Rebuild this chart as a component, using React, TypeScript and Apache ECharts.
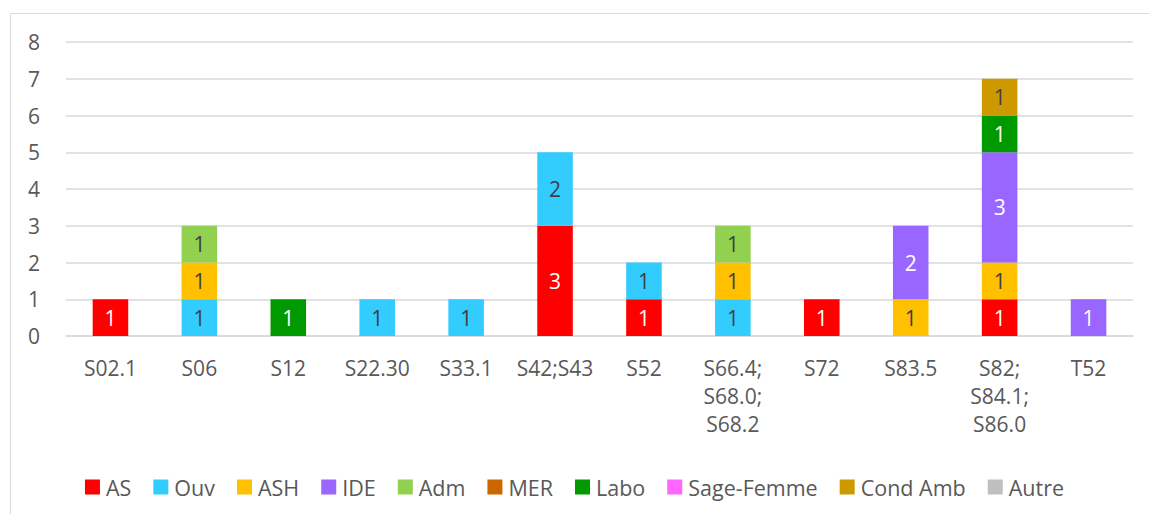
import React, { useEffect, useRef } from "react";
import * as echarts from "echarts";

const categories = [
  "S02.1",
  "S06",
  "S12",
  "S22.30",
  "S33.1",
  "S42;S43",
  "S52",
  "S66.4;\nS68.0;\nS68.2",
  "S72",
  "S83.5",
  "S82;\nS84.1;\nS86.0",
  "T52",
];

const seriesNames = ["AS", "Ouv", "ASH", "IDE", "Adm", "MER", "Labo", "Sage-Femme", "Cond Amb", "Autre"];

const AS = [1, 0, 0, 0, 0, 3, 1, 0, 1, 0, 1, 0];
const Ouv = [0, 1, 0, 1, 1, 2, 1, 1, 0, 0, 0, 0];
const ASH = [0, 1, 0, 0, 0, 0, 0, 1, 0, 1, 1, 0];
const IDE = [0, 0, 0, 0, 0, 0, 0, 0, 0, 2, 3, 1];
const Adm = [0, 1, 0, 0, 0, 0, 0, 1, 0, 0, 0, 0];
const MER = [0, 0, 0, 0, 0, 0, 0, 0, 0, 0, 0, 0];
const Labo = [0, 0, 1, 0, 0, 0, 0, 0, 0, 0, 1, 0];
const SageFemme = [0, 0, 0, 0, 0, 0, 0, 0, 0, 0, 0, 0];
const CondAmb = [0, 0, 0, 0, 0, 0, 0, 0, 0, 0, 1, 0];
const Autre = [0, 0, 0, 0, 0, 0, 0, 0, 0, 0, 0, 0];

const seriesValues = [AS, Ouv, ASH, IDE, Adm, MER, Labo, SageFemme, CondAmb, Autre];

const colors = ["#FF0000", "#33CCFF", "#FFC000", "#9966FF", "#92D050", "#CC6600", "#009900", "#FF66FF", "#CC9900", "#BFBFBF"];
const labelColors = ["#FFFFFF", "#404040", "#404040", "#FFFFFF", "#404040", "#FFFFFF", "#FFFFFF", "#404040", "#404040", "#404040"];

const yMin = 0;
const yMax = 8;
const yInterval = 1;

export default function App() {
  const ref = useRef<HTMLDivElement>(null);
  useEffect(() => {
    if (!ref.current) return;
    const chart = echarts.init(ref.current, null, { renderer: "svg" });
    const font = "'Open Sans', 'Noto Sans', sans-serif";
    chart.setOption({
      animation: false,
      color: colors,
      textStyle: { fontFamily: font },
      graphic: [
        {
          type: "rect",
          shape: { x: 10.5, y: 13.5, width: 1150, height: 520 },
          style: { fill: "none", stroke: "#D9D9D9", lineWidth: 1 },
          silent: true,
          z: -1,
        },
      ],
      grid: { left: 66, right: 16, top: 42, bottom: 178, containLabel: false },
      legend: {
        top: 471,
        left: "center",
        icon: "rect",
        itemWidth: 15,
        itemHeight: 15,
        itemGap: 22,
        textStyle: { fontSize: 21.5, color: "#595959", fontFamily: font, padding: [0, 0, 0, 1] },
        data: seriesNames,
      },
      xAxis: {
        type: "category",
        data: categories,
        axisLine: { show: true, lineStyle: { color: "#D9D9D9", width: 1.5 } },
        axisTick: { show: false },
        axisLabel: {
          interval: 0,
          fontSize: 21,
          color: "#595959",
          fontFamily: font,
          lineHeight: 28,
          margin: 18,
        },
      },
      yAxis: {
        type: "value",
        min: yMin,
        max: yMax,
        interval: yInterval,
        axisLine: { show: false },
        axisTick: { show: false },
        splitLine: { lineStyle: { color: "#D9D9D9", width: 1.5 } },
        axisLabel: { fontSize: 21, color: "#595959", fontFamily: font, margin: 26 },
      },
      series: seriesNames.map((name, i) => ({
        name,
        type: "bar",
        stack: "total",
        barWidth: "40%",
        data: seriesValues[i],
        itemStyle: { color: colors[i] },
        label: {
          show: true,
          position: "inside",
          fontSize: 21,
          fontFamily: font,
          color: labelColors[i],
          formatter: (p: any) => (p.value ? String(p.value) : ""),
        },
      })),
    });
    return () => chart.dispose();
  }, []);
  return (
    <div
      ref={ref}
      style={{ position: "fixed", left: 0, top: 0, width: 1149, height: 514, background: "#fff" }}
    />
  );
}
